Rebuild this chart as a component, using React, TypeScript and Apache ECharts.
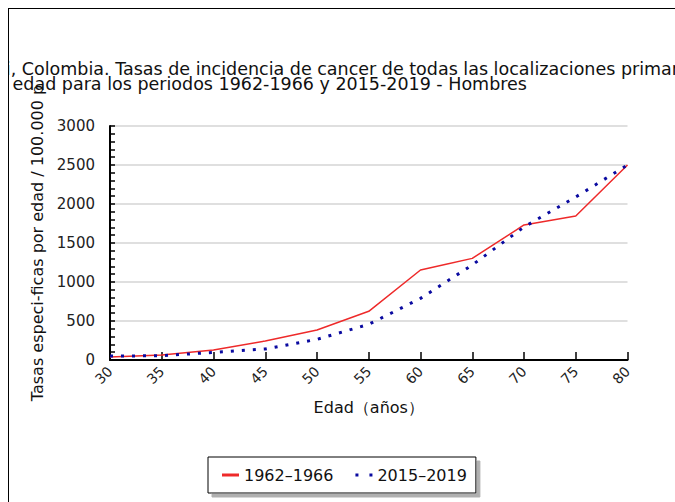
import React, { useEffect, useRef } from "react";
import * as echarts from "echarts";

const ages = ["30", "35", "40", "45", "50", "55", "60", "65", "70", "75", "80"];
const seriesNames = ["1962–1966", "2015–2019"];
const rates1962 = [40, 64, 128, 244, 385, 624, 1154, 1303, 1731, 1846, 2500];
const rates2015 = [50, 55, 98, 141, 265, 457, 790, 1218, 1705, 2090, 2500];
const titleText =
  "Cali, Colombia. Tasas de incidencia de cancer de todas las localizaciones primarias\npor edad para los periodos 1962-1966 y 2015-2019 - Hombres";
const yName = "Tasas especi-ficas por edad / 100.000 p";
const xName = "Edad（años）";

export default function App() {
  const ref = useRef<HTMLDivElement>(null);
  useEffect(() => {
    if (!ref.current) return;
    const chart = echarts.init(ref.current, null, { renderer: "svg" });
    chart.setOption({
      animation: false,
      backgroundColor: "#fff",
      textStyle: { fontFamily: "DejaVu Sans" },
      title: {
        text: titleText,
        left: -31,
        top: 52,
        padding: 0,
        textStyle: {
          fontFamily: "DejaVu Sans",
          fontSize: 17.5,
          fontWeight: "normal",
          color: "#111",
          lineHeight: 15,
        },
      },
      grid: { left: 101, right: 47.5, top: 117, bottom: 142, containLabel: false },
      xAxis: {
        type: "category",
        data: ages,
        boundaryGap: false,
        name: xName,
        nameLocation: "middle",
        nameGap: 39,
        nameTextStyle: { fontSize: 16, color: "#111", fontFamily: "DejaVu Sans" },
        axisLine: { show: true, lineStyle: { color: "#000", width: 2 } },
        axisTick: { show: true, inside: true, length: 8, interval: 0, lineStyle: { color: "#000", width: 1.5 } },
        axisLabel: { rotate: 45, interval: 0, fontSize: 14, color: "#222", margin: 9 },
        splitLine: { show: false },
      },
      yAxis: {
        type: "value",
        min: 0,
        max: 3000,
        interval: 500,
        name: yName,
        nameLocation: "middle",
        nameGap: 56,
        nameTextStyle: { fontSize: 16, color: "#111", fontFamily: "DejaVu Sans" },
        axisLine: { show: true, lineStyle: { color: "#000", width: 2 } },
        axisTick: { show: true, inside: true, length: 5, lineStyle: { color: "#000", width: 1.5 } },
        minorTick: { show: true, splitNumber: 5, length: 5, lineStyle: { color: "#000", width: 1.5 } },
        axisLabel: { fontSize: 15, color: "#222", margin: 15, formatter: (v: number) => String(v) },
        splitLine: { show: true, lineStyle: { color: "#d4d4d4", width: 1.5 } },
      },
      legend: {
        left: 199,
        top: 448,
        orient: "horizontal",
        padding: [10, 9, 10, 14],
        itemGap: 22,
        itemWidth: 17,
        itemHeight: 3,
        backgroundColor: "#fff",
        borderColor: "#000",
        borderWidth: 1,
        shadowColor: "#b0b0b0",
        shadowOffsetX: 4,
        shadowOffsetY: 4,
        shadowBlur: 0,
        textStyle: { fontSize: 16, color: "#111", fontFamily: "DejaVu Sans" },
        itemStyle: { borderWidth: 0 },
        data: [
          { name: seriesNames[0], icon: "path://M0,0H17V3H0Z" },
          { name: seriesNames[1], icon: "path://M0,0H3V3H0ZM14,0H17V3H14Z" },
        ],
      },
      series: [
        {
          name: seriesNames[0],
          type: "line",
          data: rates1962,
          showSymbol: false,
          symbol: "none",
          color: "#ee2a2a",
          lineStyle: { color: "#ee2a2a", width: 1.5 },
        },
        {
          name: seriesNames[1],
          type: "line",
          data: rates2015,
          showSymbol: false,
          symbol: "none",
          color: "#0a0aa0",
          lineStyle: { color: "#0a0aa0", width: 3, type: [3, 8], cap: "butt" },
        },
      ],
    });
    return () => chart.dispose();
  }, []);
  return (
    <div
      style={{
        position: "fixed",
        left: 8,
        top: 8,
        width: 667,
        height: 494,
        boxSizing: "border-box",
        borderTop: "1px solid #000",
        borderLeft: "1px solid #000",
        background: "#fff",
        overflow: "hidden",
      }}
    >
      <div ref={ref} style={{ width: 666, height: 493 }} />
    </div>
  );
}
